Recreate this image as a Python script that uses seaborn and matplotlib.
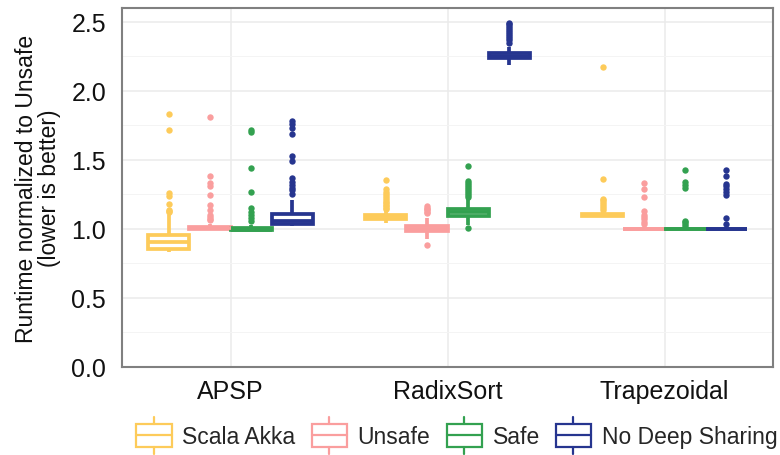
import matplotlib
matplotlib.use("Agg")
import matplotlib.pyplot as plt
import numpy as np
import pandas as pd
import seaborn as sns
from matplotlib.patches import Patch, Rectangle
from matplotlib.lines import Line2D
from matplotlib.legend_handler import HandlerBase
from matplotlib.ticker import MultipleLocator

# ---------------- data ----------------
benchmarks = ["APSP", "RadixSort", "Trapezoidal"]
variants = ["Scala Akka", "Unsafe", "Safe", "No Deep Sharing"]
colors = ["#FDCB5A", "#FA9E9E", "#33A150", "#26358F"]
y_ticks = [0.0, 0.5, 1.0, 1.5, 2.0, 2.5]
y_tick_labels = ["0.0", "0.5", "1.0", "1.5", "2.0", "2.5"]

apsp_akka = [0.835, 0.838, 0.841, 0.844, 0.846, 0.848, 0.850, 0.852, 0.854,
             0.855,
             0.862, 0.869, 0.876, 0.883, 0.889, 0.895, 0.900, 0.903,
             0.905,
             0.912, 0.919, 0.926, 0.933, 0.939, 0.945, 0.950, 0.953,
             0.955,
             1.10, 1.12, 1.13, 1.14, 1.18, 1.24, 1.26, 1.72, 1.83]
apsp_unsafe = [0.990, 0.991, 0.992, 0.993, 0.994, 0.995, 0.996, 0.997, 0.998, 0.998, 0.999, 0.999,
               1.000,
               1.000, 1.001, 1.001, 1.002, 1.002, 1.003, 1.003, 1.004, 1.004, 1.004, 1.005,
               1.005,
               1.006, 1.007, 1.008, 1.009, 1.010, 1.011, 1.012, 1.013, 1.013, 1.014, 1.014,
               1.015,
               1.035, 1.065, 1.075, 1.085, 1.10, 1.14, 1.17, 1.245, 1.31, 1.33, 1.38, 1.81]
apsp_safe = [0.984, 0.985, 0.986, 0.987, 0.988, 0.988, 0.989, 0.989, 0.990, 0.990,
             0.990,
             0.991, 0.991, 0.992, 0.992, 0.993, 0.993, 0.994, 0.994, 0.995,
             0.995,
             0.996, 0.997, 0.998, 0.999, 1.000, 1.001, 1.002, 1.003, 1.004,
             1.005,
             1.025, 1.06, 1.08, 1.10, 1.12, 1.15, 1.27, 1.44, 1.70, 1.715]
apsp_nds = [1.020, 1.021, 1.022, 1.023, 1.024, 1.025, 1.026, 1.027, 1.028, 1.029, 1.030, 1.032, 1.034,
            1.035,
            1.037, 1.039, 1.041, 1.043, 1.045, 1.047, 1.049, 1.051, 1.053, 1.055, 1.057, 1.059,
            1.060,
            1.064, 1.068, 1.072, 1.076, 1.080, 1.084, 1.088, 1.092, 1.096, 1.100, 1.104, 1.107,
            1.110,
            1.21, 1.25, 1.28, 1.30, 1.32, 1.34, 1.37, 1.49, 1.53, 1.69, 1.73, 1.76, 1.78]

radix_akka = [1.040, 1.045, 1.050, 1.054, 1.058, 1.061, 1.064, 1.066, 1.068, 1.070, 1.071, 1.072, 1.073, 1.074,
              1.075,
              1.076, 1.077, 1.078, 1.079, 1.080, 1.081, 1.082, 1.083, 1.084, 1.085, 1.086, 1.087, 1.088,
              1.090,
              1.091, 1.091, 1.092, 1.092, 1.093, 1.094, 1.095, 1.095, 1.096, 1.097, 1.098, 1.099, 1.099,
              1.100,
              1.135, 1.145, 1.155, 1.165, 1.175, 1.185, 1.195, 1.21, 1.225, 1.24, 1.255, 1.27, 1.29, 1.355]
radix_unsafe = [0.885, 0.925, 0.940, 0.955, 0.965, 0.972, 0.978,
                0.982,
                0.985, 0.988, 0.991, 0.994, 0.996, 0.998,
                1.000,
                1.003, 1.006, 1.009, 1.012, 1.015, 1.018,
                1.022,
                1.08, 1.115, 1.125, 1.135, 1.145, 1.155, 1.165]
radix_safe = [1.005, 1.030, 1.045, 1.055, 1.065, 1.072, 1.078, 1.083, 1.087, 1.090, 1.093,
              1.095,
              1.098, 1.100, 1.103, 1.105, 1.108, 1.110, 1.112, 1.114, 1.116, 1.118,
              1.120,
              1.122, 1.125, 1.127, 1.130, 1.132, 1.135, 1.137, 1.139, 1.141, 1.143,
              1.145,
              1.215, 1.23, 1.245, 1.26, 1.275, 1.29, 1.305, 1.32, 1.335, 1.35, 1.455]
radix_nds = [2.185, 2.195, 2.205, 2.212, 2.218, 2.222, 2.225, 2.228, 2.230, 2.232, 2.234, 2.235,
             2.236,
             2.238, 2.240, 2.242, 2.243, 2.245, 2.247, 2.248, 2.250, 2.251, 2.252, 2.254,
             2.255,
             2.256, 2.258, 2.259, 2.260, 2.262, 2.263, 2.265, 2.266, 2.268, 2.269, 2.271,
             2.272,
             2.32, 2.35, 2.365, 2.38, 2.395, 2.41, 2.425, 2.44, 2.455, 2.47, 2.482, 2.49]

trap_akka = [1.084, 1.085, 1.086, 1.086, 1.087, 1.087, 1.088, 1.088, 1.089, 1.089,
             1.090,
             1.091, 1.092, 1.093, 1.094, 1.095, 1.095, 1.096, 1.097, 1.097,
             1.098,
             1.099, 1.099, 1.100, 1.101, 1.101, 1.102, 1.103, 1.103, 1.104,
             1.105,
             1.125, 1.135, 1.15, 1.165, 1.18, 1.195, 1.21, 1.22, 1.36, 2.17]
trap_unsafe = [0.994, 0.995, 0.996, 0.996, 0.997, 0.997, 0.997, 0.998, 0.998, 0.998,
               0.998,
               0.998, 0.999, 0.999, 0.999, 0.999, 1.000, 1.000, 1.000, 1.000,
               1.000,
               1.000, 1.000, 1.001, 1.001, 1.001, 1.001, 1.002, 1.002, 1.002,
               1.002,
               1.006, 1.035, 1.05, 1.07, 1.085, 1.10, 1.13, 1.23, 1.29, 1.335]
trap_safe = [0.994, 0.995, 0.996, 0.996, 0.997, 0.997, 0.998, 0.998, 0.998,
             0.998,
             0.999, 0.999, 0.999, 1.000, 1.000, 1.000, 1.000, 1.000,
             1.000,
             1.000, 1.000, 1.001, 1.001, 1.001, 1.002, 1.002, 1.002,
             1.002,
             1.006, 1.02, 1.035, 1.05, 1.06, 1.30, 1.315, 1.34, 1.425]
trap_nds = [0.994, 0.995, 0.996, 0.996, 0.997, 0.997, 0.997, 0.998, 0.998, 0.998,
            0.998,
            0.998, 0.999, 0.999, 0.999, 0.999, 1.000, 1.000, 1.000, 1.000,
            1.000,
            1.000, 1.000, 1.001, 1.001, 1.001, 1.001, 1.002, 1.002, 1.002,
            1.002,
            1.006, 1.035, 1.077, 1.245, 1.27, 1.29, 1.31, 1.325, 1.38, 1.425]

samples = {
    ("APSP", "Scala Akka"): apsp_akka,
    ("APSP", "Unsafe"): apsp_unsafe,
    ("APSP", "Safe"): apsp_safe,
    ("APSP", "No Deep Sharing"): apsp_nds,
    ("RadixSort", "Scala Akka"): radix_akka,
    ("RadixSort", "Unsafe"): radix_unsafe,
    ("RadixSort", "Safe"): radix_safe,
    ("RadixSort", "No Deep Sharing"): radix_nds,
    ("Trapezoidal", "Scala Akka"): trap_akka,
    ("Trapezoidal", "Unsafe"): trap_unsafe,
    ("Trapezoidal", "Safe"): trap_safe,
    ("Trapezoidal", "No Deep Sharing"): trap_nds,
}
rows = [(b, v, x) for (b, v), vals in samples.items() for x in vals]
df = pd.DataFrame(rows, columns=["benchmark", "variant", "runtime"])

# ---------------- style ----------------
sns.set_style("white")
plt.rcParams["font.family"] = ["Liberation Sans", "DejaVu Sans"]

fig = plt.figure(figsize=(7.8, 4.56), dpi=100)
ax = fig.add_axes([122 / 780, 88 / 456, 651 / 780, 359 / 456])

sns.boxplot(
    data=df, x="benchmark", y="runtime", hue="variant",
    order=benchmarks, hue_order=variants, palette=colors,
    width=0.76, gap=0, linewidth=2.7, fill=True, showcaps=False,
    whis=1.5, fliersize=4.6,
    flierprops=dict(marker="o", markeredgewidth=0),
    legend=False, ax=ax,
)

# ggplot-like coloured outlines with white fill
for cont, col in zip(ax.containers, colors):
    for b in getattr(cont, "boxes", []):
        b.set_facecolor("white")
        b.set_edgecolor(col)
    for ln in list(getattr(cont, "whiskers", [])) + list(getattr(cont, "medians", [])):
        ln.set_color(col)
    for f in getattr(cont, "fliers", []):
        f.set_markerfacecolor(col)
        f.set_markeredgecolor(col)

ax.set_xlim(-0.5, 2.5)
ax.set_ylim(0, 2.6)
ax.set_yticks(y_ticks)
ax.set_yticklabels(y_tick_labels)
ax.yaxis.set_minor_locator(MultipleLocator(0.25))
ax.set_axisbelow(True)
ax.grid(which="major", axis="both", color="#EBEBEB", linewidth=1.1)
ax.grid(which="minor", axis="y", color="#F4F4F4", linewidth=0.7)

ax.tick_params(axis="both", which="major", direction="out", length=5.5, width=1.8,
               color="#333333", labelsize=18, labelcolor="#111111")
ax.tick_params(axis="y", which="major", pad=6)
ax.tick_params(axis="x", which="major", pad=3)
ax.tick_params(which="minor", length=0)
for s in ax.spines.values():
    s.set_visible(True)
    s.set_color("#808080")
    s.set_linewidth(1.5)

ax.set_xlabel("")
ax.set_ylabel("Runtime normalized to Unsafe\n(lower is better)", fontsize=16.5,
              linespacing=1.05, labelpad=7, color="#111111")


class BoxHandler(HandlerBase):
    def create_artists(self, legend, orig_handle, xdescent, ydescent, width, height,
                       fontsize, trans):
        col = orig_handle.get_edgecolor()
        x0, y0 = -xdescent, -ydescent
        ext = 0.3 * height
        rect = Rectangle((x0, y0), width, height, facecolor="white", edgecolor=col,
                         linewidth=1.6, transform=trans)
        mid = Line2D([x0, x0 + width], [y0 + height / 2] * 2, color=col, linewidth=1.6,
                     transform=trans)
        top = Line2D([x0 + width / 2] * 2, [y0 + height, y0 + height + ext], color=col,
                     linewidth=1.6, transform=trans)
        bot = Line2D([x0 + width / 2] * 2, [y0 - ext, y0], color=col, linewidth=1.6,
                     transform=trans)
        return [rect, mid, top, bot]


handles = [Patch(facecolor="white", edgecolor=c, label=v) for v, c in zip(variants, colors)]
fig.legend(handles=handles, labels=variants, handler_map={Patch: BoxHandler()},
           loc="center", bbox_to_anchor=(457 / 780, (456 - 437) / 456),
           ncol=4, frameon=False, fontsize=16.5, handlelength=1.53, handleheight=1.18,
           handletextpad=0.48, columnspacing=0.7, borderpad=0, borderaxespad=0)

fig.savefig("out.png", dpi=100)
